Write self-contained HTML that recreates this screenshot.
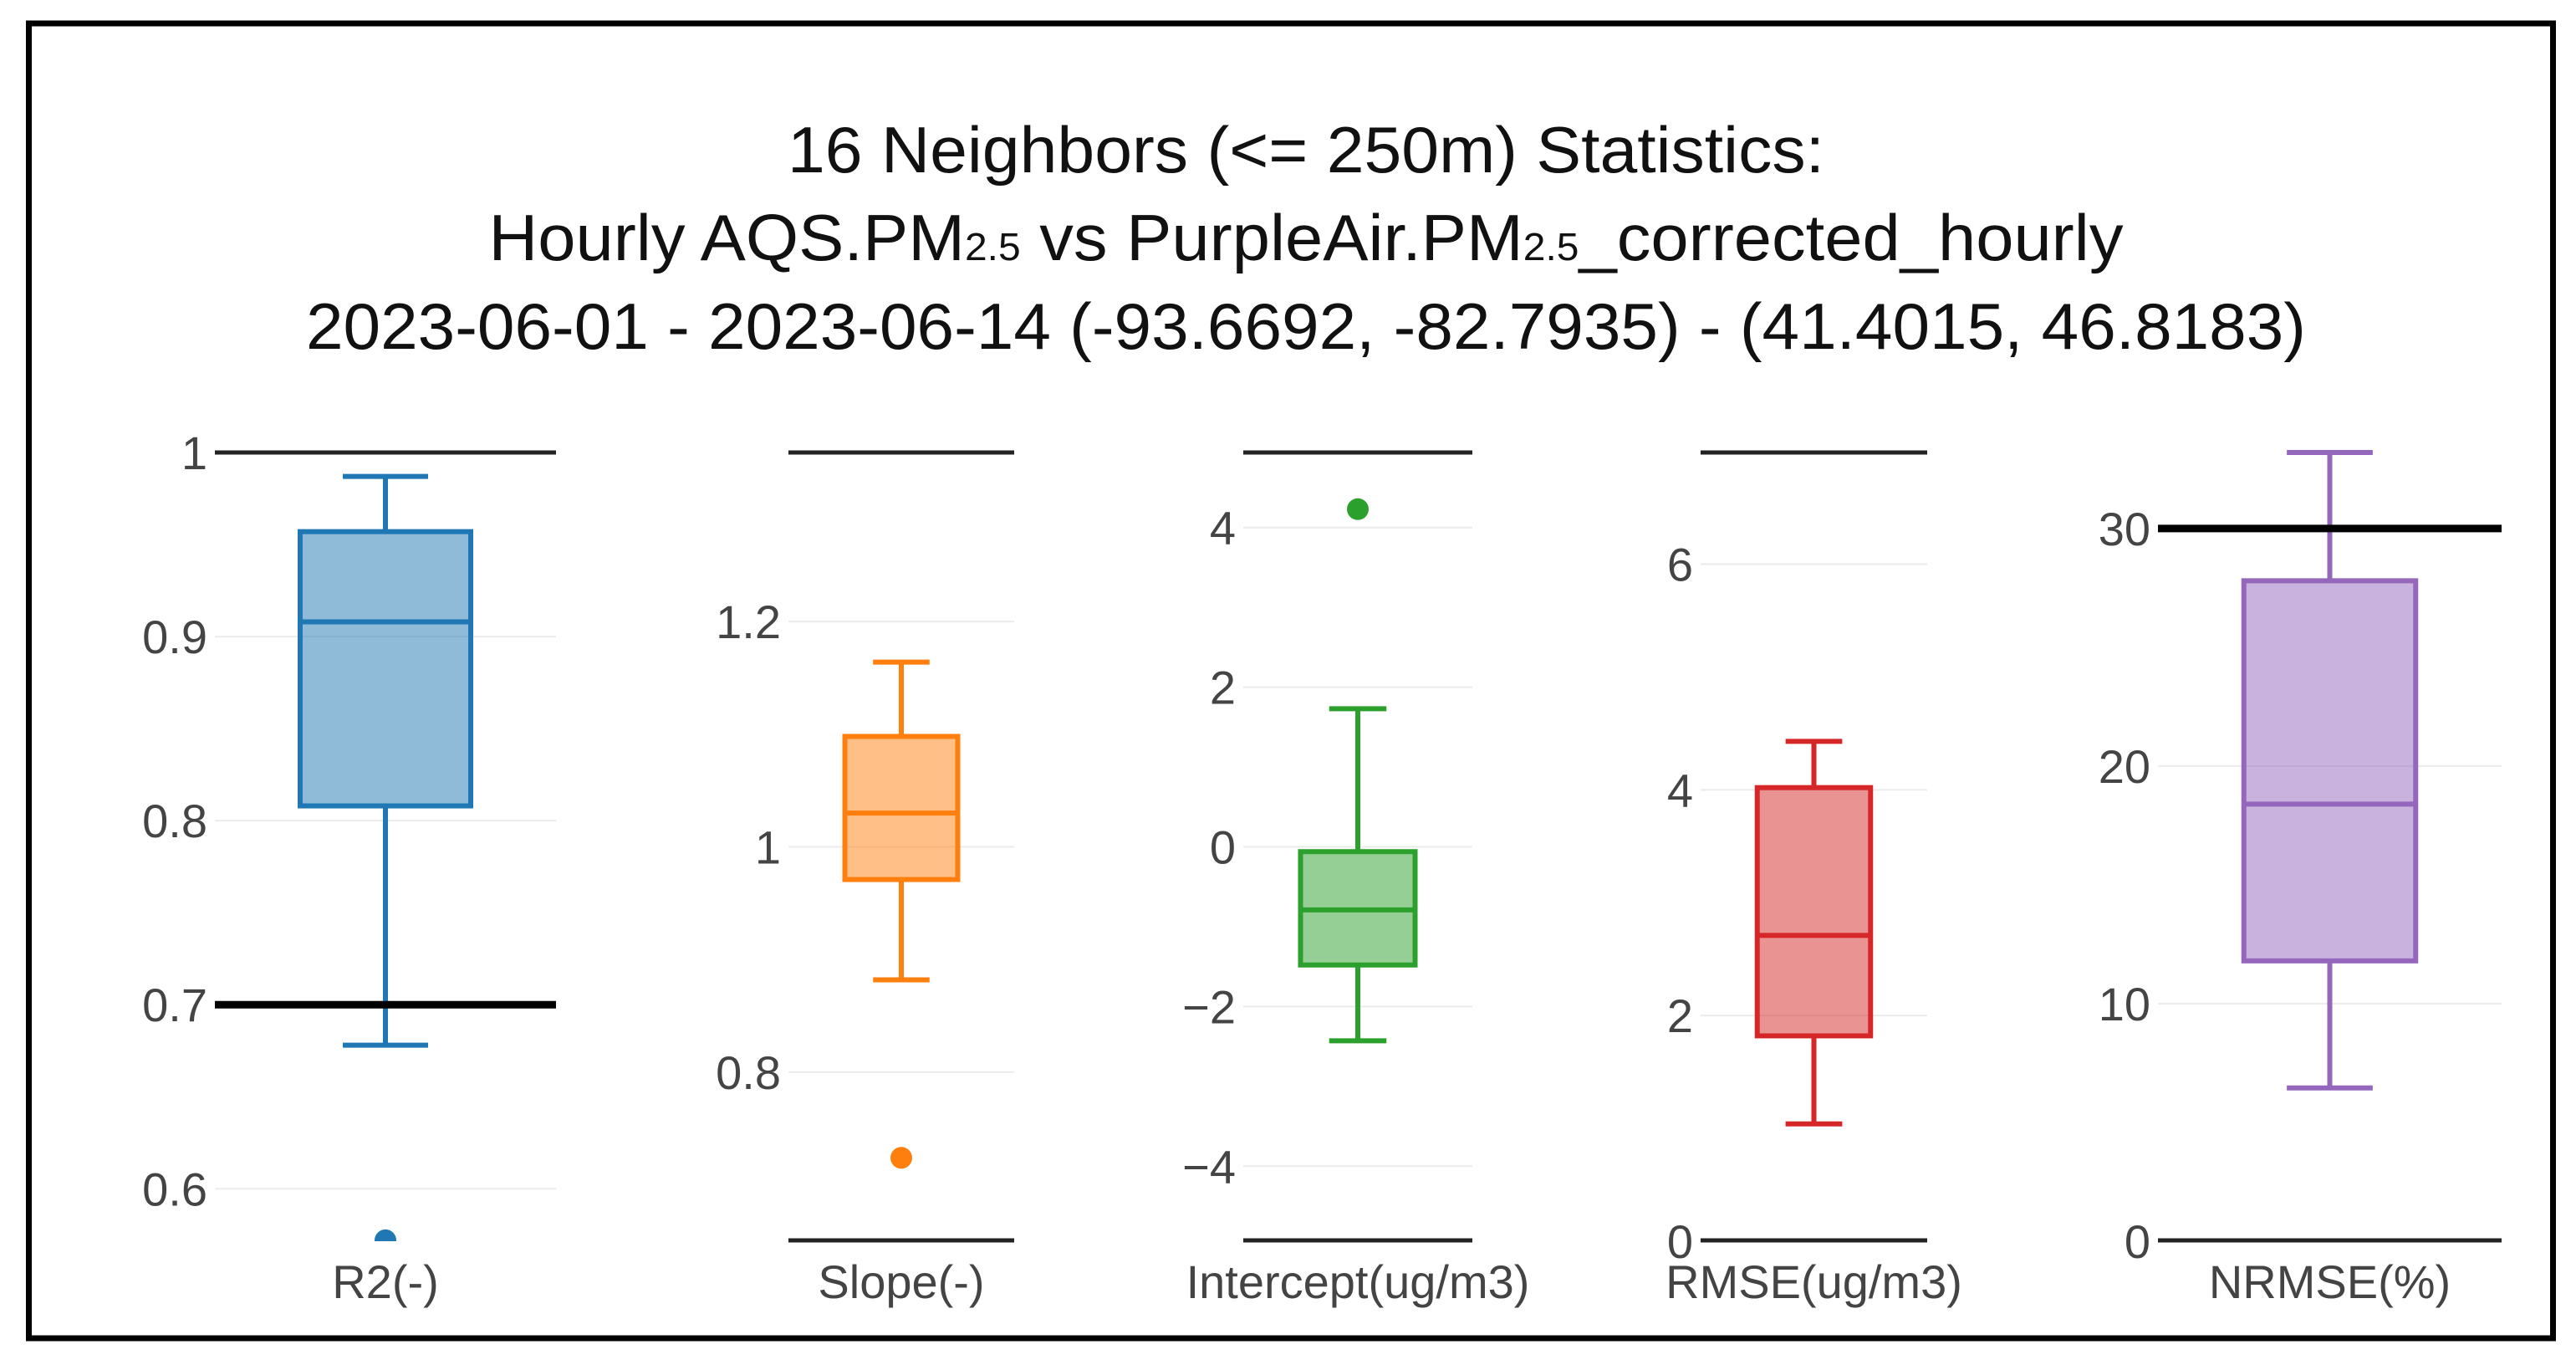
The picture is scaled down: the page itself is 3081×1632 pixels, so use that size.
<!DOCTYPE html>
<html><head><meta charset="utf-8"><style>
html,body{margin:0;padding:0;background:#fff;width:3081px;height:1632px;overflow:hidden}
svg text{font-family:"Liberation Sans",sans-serif}
</style></head><body>
<svg id="chart" width="3081" height="1632" viewBox="0 0 3081 1632" xmlns="http://www.w3.org/2000/svg">
<rect x="34.5" y="28" width="3019" height="1572" fill="#fff" stroke="#000" stroke-width="7"/>
<g fill="#111" text-anchor="middle" font-size="78">
<text x="1562" y="206" textLength="1240" lengthAdjust="spacingAndGlyphs">16 Neighbors (&lt;= 250m) Statistics:</text>
<text x="1562" y="311" textLength="1955" lengthAdjust="spacingAndGlyphs">Hourly AQS.PM<tspan font-size="46">2.5</tspan> vs PurpleAir.PM<tspan font-size="46">2.5</tspan>_corrected_hourly</text>
<text x="1562" y="417" textLength="2392" lengthAdjust="spacingAndGlyphs">2023-06-01 - 2023-06-14 (-93.6692, -82.7935) - (41.4015, 46.8183)</text>
</g>
<g id="panels"></g>
</svg>
<script>
const panelNames = ["R2(-)", "Slope(-)", "Intercept(ug/m3)", "RMSE(ug/m3)", "NRMSE(%)"];
const upperWhisker = [0.987, 1.164, 1.73, 4.43, 33.2];
const q3Values = [0.957, 1.098, -0.06, 4.02, 27.8];
const medianValues = [0.908, 1.03, -0.79, 2.71, 18.4];
const q1Values = [0.808, 0.971, -1.48, 1.82, 11.8];
const lowerWhisker = [0.678, 0.882, -2.43, 1.04, 6.45];
const outlierValues = [[0.572], [0.724], [4.23], [], []];
const axisMin = [0.5715, 0.65, -4.94, 0, 0];
const axisMax = [1.0, 1.35, 4.94, 6.99, 33.2];
const tickValues = [[0.6, 0.7, 0.8, 0.9, 1], [0.8, 1, 1.2], [-4, -2, 0, 2, 4], [0, 2, 4, 6], [0, 10, 20, 30]];
const tickLabels = [["0.6", "0.7", "0.8", "0.9", "1"], ["0.8", "1", "1.2"], ["\u22124", "\u22122", "0", "2", "4"], ["0", "2", "4", "6"], ["0", "10", "20", "30"]];
const refLineValues = [[0.7], [], [], [], [30]];
const colors = ["#1f77b4", "#ff7f0e", "#2ca02c", "#d62728", "#9467bd"];

const NS = "http://www.w3.org/2000/svg";
const layout = [[257, 665], [943, 1213], [1487, 1761], [2034, 2305], [2581, 2992]];
const topLine = [false, true, true, true, false];
const bottomLine = [false, true, true, true, true];
const PT = 541, PB = 1484, SW = 6;
const g = document.getElementById("panels");
function mk(tag, attrs, parent) {
  const e = document.createElementNS(NS, tag);
  for (const k in attrs) e.setAttribute(k, attrs[k]);
  parent.appendChild(e);
  return e;
}
panelNames.forEach((name, i) => {
  const [x0, x1] = layout[i];
  const y = v => PT + (axisMax[i] - v) / (axisMax[i] - axisMin[i]) * (PB - PT);
  const pg = mk("g", {}, g);
  
  
  const clip = mk("clipPath", {id: "clip" + i}, pg);
  mk("rect", {x: x0, y: PT - 4, width: x1 - x0, height: PB - PT + 4}, clip);
  tickValues[i].forEach((t, j) => {
    const ty = y(t);
    const gl = mk("line", {x1: x0, x2: x1, y1: ty, y2: ty, stroke: "#ebebeb", "stroke-width": 2}, pg);
    
    
    const tx = mk("text", {x: x0 - 9, y: ty + 20, "text-anchor": "end", "font-size": 56, fill: "#444"}, pg);
    tx.textContent = tickLabels[i][j];
    
    
  });
  if (topLine[i]) {
    const l = mk("line", {x1: x0, x2: x1, y1: PT, y2: PT, stroke: "#222", "stroke-width": 5}, pg);
    
    
  }
  if (i === 0) {
    const l = mk("line", {x1: x0, x2: x1, y1: y(1), y2: y(1), stroke: "#222", "stroke-width": 5}, pg);
    
    
  }
  if (bottomLine[i]) {
    const l = mk("line", {x1: x0, x2: x1, y1: PB - 1, y2: PB - 1, stroke: "#222", "stroke-width": 5}, pg);
    
    
  }
  const cx = (x0 + x1) / 2;
  const bw = (x1 - x0) * 0.5;
  const c = colors[i];
  const bg = mk("g", {"clip-path": "url(#clip" + i + ")"}, pg);
  
  
  mk("line", {x1: cx, x2: cx, y1: y(upperWhisker[i]), y2: y(q3Values[i]), stroke: c, "stroke-width": SW}, bg);
  mk("line", {x1: cx, x2: cx, y1: y(q1Values[i]), y2: y(lowerWhisker[i]), stroke: c, "stroke-width": SW}, bg);
  mk("line", {x1: cx - bw / 4, x2: cx + bw / 4, y1: y(upperWhisker[i]), y2: y(upperWhisker[i]), stroke: c, "stroke-width": SW}, bg);
  mk("line", {x1: cx - bw / 4, x2: cx + bw / 4, y1: y(lowerWhisker[i]), y2: y(lowerWhisker[i]), stroke: c, "stroke-width": SW}, bg);
  mk("rect", {x: cx - bw / 2, y: y(q3Values[i]), width: bw, height: y(q1Values[i]) - y(q3Values[i]), fill: c, "fill-opacity": 0.5, stroke: c, "stroke-width": SW}, bg);
  mk("line", {x1: cx - bw / 2, x2: cx + bw / 2, y1: y(medianValues[i]), y2: y(medianValues[i]), stroke: c, "stroke-width": SW}, bg);
  outlierValues[i].forEach(v => {
    const o = mk("circle", {cx: cx, cy: y(v), r: 13, fill: c}, bg);
    
    
  });
  refLineValues[i].forEach(v => {
    const l = mk("line", {x1: x0, x2: x1, y1: y(v), y2: y(v), stroke: "#000", "stroke-width": 9}, pg);
    
    
  });
  const xl = mk("text", {x: cx, y: 1552, "text-anchor": "middle", "font-size": 56, fill: "#444"}, pg);
  xl.textContent = name;
  
  
});
</script>
</body></html>
